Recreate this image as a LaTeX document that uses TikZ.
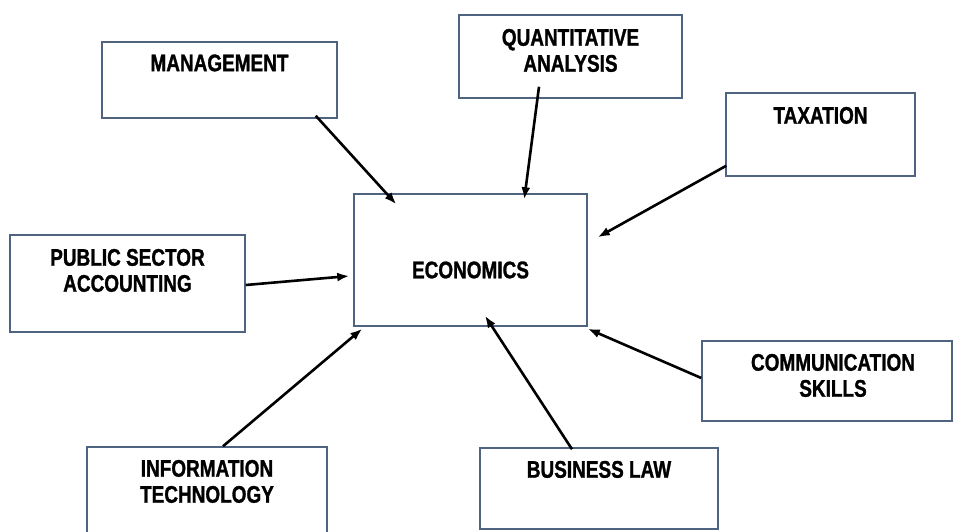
\documentclass[tikz,border=0pt]{standalone}
\usepackage{fontspec}
\usepackage{tikz}
\usetikzlibrary{calc}
\usetikzlibrary{arrows.meta}
\usetikzlibrary{positioning}
\newfontfamily\boxfont[FakeStretch=0.79, FakeBold=1.2]{Liberation Sans Bold}
\definecolor{boxline}{RGB}{78,100,128}
\tikzset{>=latex}
\tikzstyle{area} = [rectangle, draw = boxline, line width = 1.5pt, inner sep = 0]
\tikzstyle{lbl} = [inner sep = 0, align = center, font = \boxfont\fontsize{24}{26}\selectfont]
\tikzstyle{link} = [-{Latex[length=12pt, width=9pt]}, line width = 2.6pt, black]

\begin{document}
\begin{tikzpicture}[x=1pt, y=-1pt]
\useasboundingbox (0, 0) rectangle (955, 532);
\node [area, minimum width = 235, minimum height = 76]  (mgmt) at (219.5, 80) {};
\node [area, minimum width = 223, minimum height = 83]  (quant) at (570.5, 56.5) {};
\node [area, minimum width = 189, minimum height = 83]  (tax) at (820.5, 134.5) {};
\node [area, minimum width = 235, minimum height = 97]  (psa) at (127.5, 283.5) {};
\node [area, minimum width = 233, minimum height = 132] (econ) at (470.5, 260) {};
\node [area, minimum width = 250, minimum height = 80]  (comm) at (827, 381) {};
\node [area, minimum width = 240, minimum height = 100] (it) at (207, 497) {};
\node [area, minimum width = 238, minimum height = 81]  (law) at (599, 488.5) {};
\node [lbl, below = 13pt of mgmt.north]  (mgmtT) {MANAGEMENT};
\node [lbl, below = 14.5pt of quant.north] (quantT) {QUANTITATIVE\\ANALYSIS};
\node [lbl, below = 14.5pt of tax.north]   (taxT) {TAXATION};
\node [lbl, below = 14.5pt of psa.north]   (psaT) {PUBLIC SECTOR\\ACCOUNTING};
\node [lbl] (econT) at (470.5, 270) {ECONOMICS};
\node [lbl, below = 13.5pt of comm.north, xshift = 6pt]  (commT) {COMMUNICATION\\SKILLS};
\node [lbl, below = 13.5pt of it.north]    (itT) {INFORMATION\\TECHNOLOGY};
\node [lbl, below = 13.5pt of law.north]   (lawT) {BUSINESS LAW};
\draw [link] ($(mgmt.south east) + (-22, -3)$) to ($(econ.north west) + (43, 11)$);
\draw [link] ($(quant.south) + (-31.5, -12)$) to ($(econ.north west) + (171, 6)$);
\draw [link] ($(tax.south west) + (1, -11)$) to ($(econ.north east) + (10, 44)$);
\draw [link] ($(psa.east) + (0, 1.5)$) to ($(econ.west) + (-4, 16)$);
\draw [link] ($(comm.west) + (0, -3)$) to ($(econ.south east) + (0, 2)$);
\draw [link] ($(law.north) + (-27, 2)$) to ($(econ.south) + (14.5, -11)$);
\draw [link] ($(it.north) + (16, 0)$) to ($(econ.south west) + (9, 2)$);
\end{tikzpicture}
\end{document}
